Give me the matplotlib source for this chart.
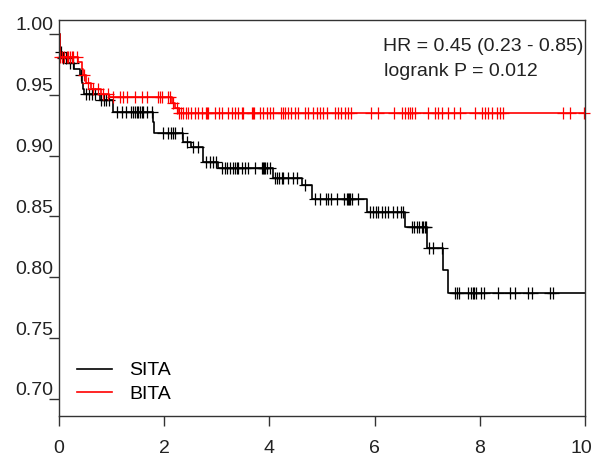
import matplotlib
matplotlib.use("Agg")
import matplotlib.pyplot as plt
import matplotlib.transforms as mtransforms
import numpy as np

plt.rcParams["font.family"] = ["Liberation Sans", "DejaVu Sans"]

# Kaplan-Meier steps (time in years, survival after the drop)
sita_t = [0, 0.01, 0.05, 0.15, 0.28, 0.40, 0.43, 0.46, 0.48, 0.78, 1.03, 1.78, 1.80,
          2.36, 2.50, 2.74, 3.02, 4.07, 4.62, 4.81, 5.86, 6.58, 7.00, 7.30, 7.40]
sita_s = [1.0, 0.985, 0.980, 0.976, 0.971, 0.966, 0.960, 0.955, 0.951, 0.946, 0.936,
          0.928, 0.919, 0.911, 0.907, 0.895, 0.890, 0.882, 0.876, 0.864, 0.854, 0.841,
          0.824, 0.806, 0.787]
sita_cens = [0.04, 0.08, 0.13, 0.21, 0.27, 0.42, 0.51, 0.57, 0.63, 0.68, 0.80, 0.86,
             0.89, 0.95, 1.10, 1.20, 1.27, 1.37, 1.41, 1.44, 1.48, 1.50, 1.54, 1.58,
             1.60, 1.67, 1.77, 1.98, 2.07, 2.13, 2.17, 2.21, 2.34, 2.43, 2.55, 2.64,
             2.79, 2.87, 2.93, 2.98, 3.10, 3.16, 3.19, 3.25, 3.31, 3.35, 3.38, 3.40,
             3.48, 3.54, 3.59, 3.73, 3.86, 3.88, 3.90, 3.92, 3.95, 4.01, 4.11, 4.14,
             4.18, 4.24, 4.26, 4.35, 4.45, 4.52, 4.68, 4.87, 4.96, 5.08, 5.11, 5.17,
             5.29, 5.42, 5.48, 5.50, 5.52, 5.53, 5.57, 5.68, 5.91, 5.97, 6.03, 6.06,
             6.14, 6.20, 6.25, 6.35, 6.43, 6.50, 6.54, 6.71, 6.75, 6.81, 6.84, 6.90,
             6.92, 6.96, 6.98, 7.03, 7.11, 7.28, 7.53, 7.57, 7.60, 7.78, 7.83, 7.87,
             7.89, 7.93, 8.02, 8.08, 8.35, 8.57, 8.67, 8.92, 8.99, 9.33, 9.39]

bita_t = [0, 0.01, 0.36, 0.44, 0.46, 0.52, 0.60, 0.80, 0.95, 2.15, 2.20, 2.28]
bita_s = [1.0, 0.981, 0.977, 0.971, 0.966, 0.960, 0.955, 0.951, 0.948, 0.943, 0.939,
          0.935]
bita_cens = [0.02, 0.06, 0.10, 0.15, 0.17, 0.21, 0.25, 0.27, 0.34, 0.47, 0.55, 0.65,
             0.74, 0.84, 0.93, 1.03, 1.16, 1.22, 1.29, 1.44, 1.58, 1.67, 1.88, 1.92,
             1.96, 2.07, 2.11, 2.17, 2.24, 2.29, 2.31, 2.36, 2.41, 2.46, 2.50, 2.59,
             2.65, 2.71, 2.79, 2.81, 2.84, 2.97, 3.05, 3.09, 3.22, 3.28, 3.35, 3.41,
             3.47, 3.50, 3.66, 3.69, 3.71, 3.82, 3.88, 3.95, 4.01, 4.07, 4.23, 4.26,
             4.30, 4.36, 4.42, 4.49, 4.55, 4.68, 4.74, 4.83, 4.90, 4.96, 5.02, 5.09,
             5.25, 5.31, 5.37, 5.44, 5.50, 5.56, 5.94, 6.07, 6.36, 6.52, 6.58, 6.64,
             6.68, 6.71, 6.77, 7.02, 7.15, 7.21, 7.28, 7.40, 7.50, 7.62, 7.91, 8.04,
             8.10, 8.16, 8.23, 8.32, 8.38, 8.45, 9.59, 9.71, 9.99]

groups = ["SITA", "BITA"]
y_ticks = [0.70, 0.75, 0.80, 0.85, 0.90, 0.95, 1.00]
x_ticks = [0, 2, 4, 6, 8, 10]

fig = plt.figure(figsize=(5.94, 4.59), dpi=100)
ax = fig.add_axes([59 / 594, 1 - 416 / 459, 526 / 594, 396 / 459])

for name, t, s, cens, col in [(groups[0], sita_t, sita_s, sita_cens, "black"),
                              (groups[1], bita_t, bita_s, bita_cens, "red")]:
    t = np.array(t + [10.0])
    s = np.array(s + [s[-1]])
    ax.step(t, s, where="post", color=col, lw=1.2, label=name)
    c = np.array(cens)
    lev = s[np.searchsorted(t, c, side="right") - 1]
    ax.plot(c, lev, ls="none", marker="+", ms=8.5, mew=0.9, color=col, clip_on=False)

ax.set_xlim(0, 10)
ax.set_ylim(0.686, 1.0115)
ax.set_xticks(x_ticks)
ax.set_xticklabels([str(v) for v in x_ticks])
ax.set_yticks(y_ticks)
ax.set_yticklabels(["%.2f" % v for v in y_ticks])
ax.tick_params(axis="both", labelsize=14, labelcolor="#222222", color="#333333",
               width=1.0)
ax.tick_params(axis="x", length=7, pad=10)
ax.tick_params(axis="y", length=7, pad=-3)
for lab in ax.get_yticklabels():
    lab.set_transform(lab.get_transform() +
                      mtransforms.ScaledTranslation(0, 10 / 100, fig.dpi_scale_trans))
# last x label sits a little left of its tick, as in the original
last = ax.get_xticklabels()[-1]
last.set_transform(last.get_transform() +
                   mtransforms.ScaledTranslation(-4 / 100, 0, fig.dpi_scale_trans))
for sp in ax.spines.values():
    sp.set_linewidth(1.0)
    sp.set_color("#333333")

ax.text(0.996, 0.932, "HR = 0.45 (0.23 - 0.85)", transform=ax.transAxes,
        ha="right", va="center", fontsize=14, color="#222222")
ax.text(0.618, 0.869, "logrank P = 0.012", transform=ax.transAxes,
        ha="left", va="center", fontsize=14, color="#222222")

ax.legend(loc="upper left", bbox_to_anchor=(0.034, 0.137), frameon=False, fontsize=14,
          handlelength=1.8, handletextpad=0.9, labelspacing=0.3, borderpad=0,
          borderaxespad=0)

fig.savefig("out.png", dpi=100)
